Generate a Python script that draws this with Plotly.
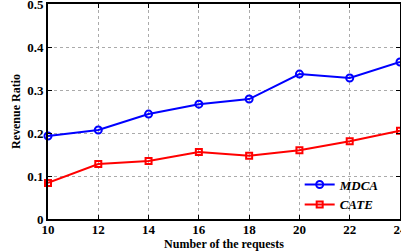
import plotly.graph_objects as go

requests = [10, 12, 14, 16, 18, 20, 22, 24]
mdca = [0.193, 0.207, 0.244, 0.267, 0.279, 0.337, 0.328, 0.365]
cate = [0.084, 0.128, 0.135, 0.156, 0.147, 0.160, 0.181, 0.205]
x_ticks = [10, 12, 14, 16, 18, 20, 22, 24]
y_ticks = [0, 0.1, 0.2, 0.3, 0.4, 0.5]
y_tick_text = ["0", "0.1", "0.2", "0.3", "0.4", "0.5"]

font = "Liberation Serif"

fig = go.Figure()
fig.add_trace(go.Scatter(
    x=requests, y=mdca, name="<b><i>MDCA</i></b>", mode="lines+markers",
    line=dict(color="#0000ff", width=2),
    marker=dict(symbol="circle-open", size=7, color="#0000ff", line=dict(width=2)),
    cliponaxis=False))
fig.add_trace(go.Scatter(
    x=requests, y=cate, name="<b><i>CATE</i></b>", mode="lines+markers",
    line=dict(color="#ff0000", width=2),
    marker=dict(symbol="square-open", size=6, color="#ff0000", line=dict(width=2)),
    cliponaxis=False))

axis_common = dict(
    showline=True, linecolor="black", linewidth=2, mirror="ticks",
    ticks="inside", ticklen=4, tickcolor="black",
    showgrid=True, gridcolor="#aaaaaa", griddash="dot", gridwidth=1,
    zeroline=False, automargin=False, ticklabeloverflow="allow",
    tickfont=dict(family=font, size=13, color="black", weight="bold"),
)

fig.update_layout(
    width=401, height=252,
    margin=dict(l=48, r=1, t=4, b=33),
    paper_bgcolor="white", plot_bgcolor="white",
    font=dict(family=font, color="black"),
    xaxis=dict(range=[10, 24], tickvals=x_ticks, ticklabelstandoff=-3, **axis_common,
               title=dict(text="<b>Number of the requests</b>", standoff=0,
                          font=dict(family=font, size=12, color="black"))),
    yaxis=dict(range=[0, 0.5], tickvals=y_ticks, ticktext=y_tick_text, **axis_common,
               title=dict(text="<b>Revenue Ratio</b>", standoff=4,
                          font=dict(family=font, size=12, color="black"))),
    legend=dict(x=0.715, y=0.23, xanchor="left", yanchor="top",
                bgcolor="rgba(255,255,255,0)", borderwidth=0,
                font=dict(family=font, size=13, color="black"),
                tracegroupgap=0, itemwidth=30),
)

fig.write_html("out.html", config={"displayModeBar": False},
               post_script="document.body.style.margin='0';")
